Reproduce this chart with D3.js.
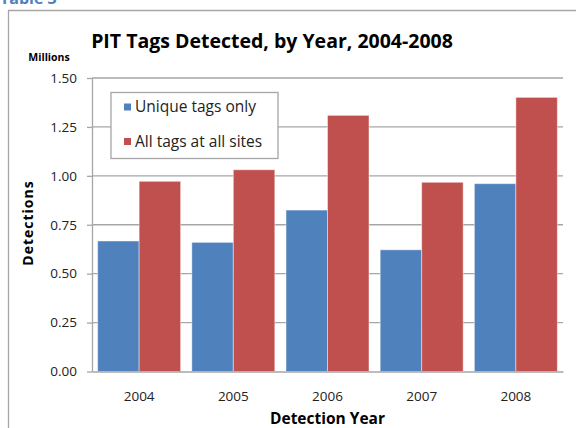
<!DOCTYPE html>
<html>
<head>
<meta charset="utf-8">
<script src="https://cdn.jsdelivr.net/npm/d3@7"></script>
<style>
  body { margin: 0; background: #fff; }
  svg { display: block; font-family: "Open Sans", sans-serif; }
</style>
</head>
<body>
<div id="chart"></div>
<script>
// values in millions
const years = ["2004", "2005", "2006", "2007", "2008"];
const uniqueTags = [0.667, 0.660, 0.825, 0.622, 0.960];
const allTags = [0.972, 1.031, 1.309, 0.967, 1.401];
const seriesNames = ["Unique tags only", "All tags at all sites"];
const seriesColors = ["#4f81bd", "#c0504d"];
const yTicks = [0, 0.25, 0.5, 0.75, 1.0, 1.25, 1.5];

const W = 576, H = 428;
const margin = {top: 78, right: 13, bottom: 56.5, left: 92};
const width = W - margin.left - margin.right,
    height = H - margin.top - margin.bottom;

var svg = d3.select("#chart").append("svg")
    .attr("width", W)
    .attr("height", H);

// page heading, mostly cropped off the top
svg.append("text")
    .attr("x", 0).attr("y", 4)
    .style("font-size", "16px").style("font-weight", "bold")
    .attr("fill", "#4f81bd")
    .text("Table 3");

// outer chart border (left + top visible)
svg.append("path")
    .attr("d", "M8.5," + H + "V10.5H" + W)
    .attr("fill", "none")
    .attr("stroke", "#a6a6a6")
    .attr("stroke-width", 1.3);

var g = svg.append("g").attr("transform", "translate(" + margin.left + "," + margin.top + ")");

var x0 = d3.scaleBand().domain(years).range([0, width]).paddingInner(0.119).paddingOuter(0.06);
var x1 = d3.scaleBand().domain([0, 1]).range([0, x0.bandwidth()]);
var y = d3.scaleLinear().domain([0, 1.5]).range([height, 0]);

// gridlines
g.append("g").selectAll("line")
    .data(yTicks.slice(1))
    .enter().append("line")
    .attr("x1", 0).attr("x2", width)
    .attr("y1", d => y(d)).attr("y2", d => y(d))
    .attr("stroke", "#a6a6a6").attr("stroke-width", 1.3);

// bars
var data = years.map((yr, i) => ({year: yr, vals: [uniqueTags[i], allTags[i]]}));
var grp = g.selectAll(".yr")
    .data(data)
    .enter().append("g")
    .attr("class", "yr")
    .attr("transform", d => "translate(" + x0(d.year) + ",0)");

grp.selectAll("rect")
    .data(d => d.vals.map((v, k) => ({k: k, v: v})))
    .enter().append("rect")
    .attr("x", d => x1(d.k))
    .attr("width", x1.bandwidth())
    .attr("y", d => y(d.v))
    .attr("height", d => height - y(d.v))
    .attr("fill", d => seriesColors[d.k])
    .attr("stroke", "rgba(255,255,255,0.45)")
    .attr("stroke-width", 1);

// y axis
var yAxis = g.append("g")
    .call(d3.axisLeft(y).tickValues(yTicks).tickFormat(d3.format(".2f")).tickSizeInner(5).tickSizeOuter(0).tickPadding(10));
yAxis.select(".domain").attr("stroke", "#a6a6a6").attr("stroke-width", 1.3);
yAxis.selectAll(".tick line").attr("stroke", "#a6a6a6").attr("stroke-width", 1.3);
yAxis.selectAll(".tick text").style("font-size", "13.5px").style("font-family", "'Open Sans', sans-serif").attr("fill", "#222");

// x axis
var xAxis = g.append("g")
    .attr("transform", "translate(0," + height + ")")
    .call(d3.axisBottom(x0).tickSize(0).tickPadding(20));
xAxis.select(".domain").attr("stroke", "#a6a6a6").attr("stroke-width", 1.3);
xAxis.selectAll(".tick text").style("font-size", "13.5px").style("font-family", "'Open Sans', sans-serif").attr("fill", "#222");

// titles
svg.append("text")
    .attr("x", 272).attr("y", 48)
    .attr("text-anchor", "middle")
    .style("font-size", "19.5px").style("font-weight", "bold")
    .text("PIT Tags  Detected, by Year, 2004-2008");

svg.append("text")
    .attr("x", 49).attr("y", 61)
    .attr("text-anchor", "middle")
    .style("font-size", "10.5px").style("font-weight", "bold")
    .text("Millions");

svg.append("text")
    .attr("transform", "translate(32.5,223) rotate(-90)")
    .attr("text-anchor", "middle")
    .style("font-size", "14px").style("font-weight", "bold")
    .style("letter-spacing", "1px")
    .text("Detections");

svg.append("text")
    .attr("x", margin.left + width / 2).attr("y", 424)
    .attr("text-anchor", "middle")
    .style("font-size", "15.5px").style("font-weight", "bold")
    .text("Detection Year");

// legend
var legend = svg.append("g").attr("transform", "translate(111,92.5)");
legend.append("rect")
    .attr("width", 167).attr("height", 66)
    .attr("fill", "#fff")
    .attr("stroke", "#a6a6a6").attr("stroke-width", 1.3);
var items = legend.selectAll(".item")
    .data(seriesNames)
    .enter().append("g")
    .attr("transform", (d, i) => "translate(13," + (14.5 + i * 34.5) + ")");
items.append("rect")
    .attr("y", -3.5).attr("width", 7).attr("height", 7)
    .attr("fill", (d, i) => seriesColors[i]);
items.append("text")
    .attr("x", 11).attr("dy", "0.35em")
    .style("font-size", "15.5px")
    .attr("fill", "#222")
    .text(d => d);
</script>
</body>
</html>
